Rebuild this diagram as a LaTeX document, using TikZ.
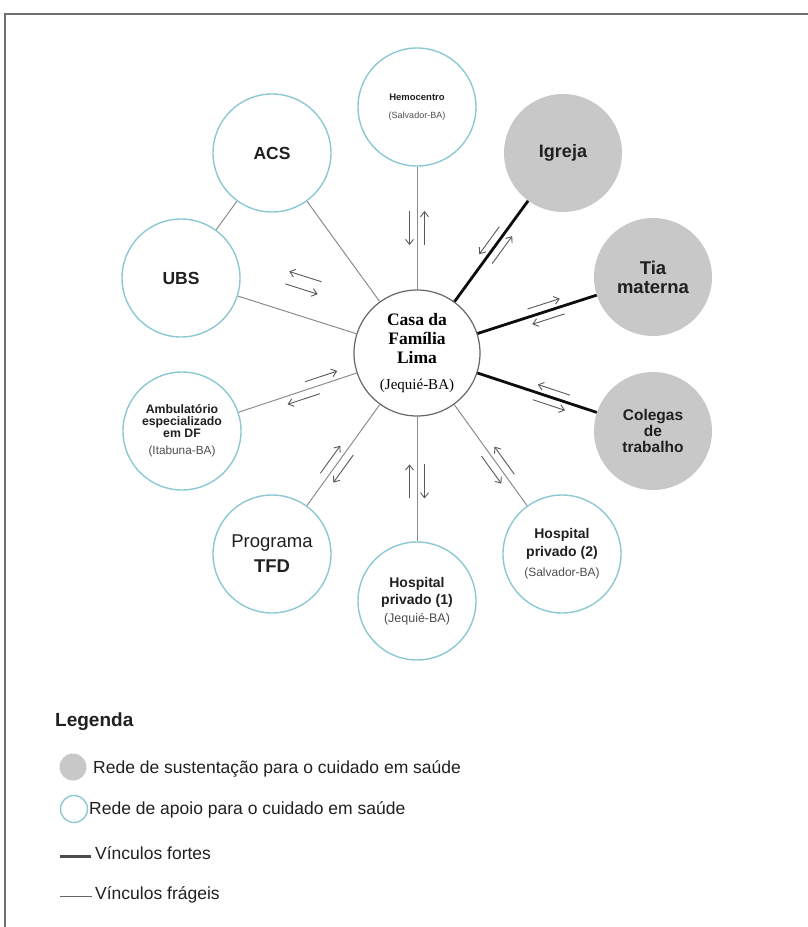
\documentclass[tikz,border=0pt]{standalone}
\usepackage{fontspec}
\setmainfont{Liberation Sans}
\newfontfamily\serifa{Liberation Serif}
\usetikzlibrary{decorations.markings, arrows.meta}

\definecolor{azul}{HTML}{8CC8D2}
\definecolor{cinza}{HTML}{C8C8C8}
\definecolor{linha}{HTML}{8C8C8C}
\definecolor{moldura}{HTML}{707070}
\definecolor{texto}{HTML}{202020}
\definecolor{local}{HTML}{4D4D4D}

\tikzset{
  apoio/.style={circle, draw=azul, line width=1.4pt, minimum size=118pt, inner sep=0pt, align=center, text=texto},
  sustento/.style={circle, fill=cinza, minimum size=118pt, inner sep=0pt, align=center, text=texto},
  centro/.style={circle, draw=black!60, line width=1.2pt, minimum size=126pt, inner sep=0pt, align=center, text=black},
  fraco/.style={draw=linha, line width=1pt},
  forte/.style={draw=black!95, line width=2.8pt},
  seta/.style={draw=black!65, line width=0.9pt},
  % ida: arrow pointing out of the centre, volta: arrow pointing back to it
  ida/.style 2 args={postaction={decorate, decoration={markings,
      mark=at position #1 with {\draw[seta,->] (-17pt,#2) -- (17pt,#2);}}}},
  volta/.style 2 args={postaction={decorate, decoration={markings,
      mark=at position #1 with {\draw[seta,<-] (-17pt,#2) -- (17pt,#2);}}}},
  legtexto/.style={anchor=west, inner sep=0pt, text=texto, font=\fontsize{17.5}{20}\selectfont},
}

\begin{document}
\begin{tikzpicture}[x=1pt, y=-1pt, >={Straight Barb[length=5pt,width=8pt]}]
  \useasboundingbox (0,0) rectangle (808,927);
  % MOLDURA
  \draw[moldura, line width=2pt] (5,927) -- (5,14) -- (808,14);

  % NODES
  \node[centro, font=\serifa\bfseries\fontsize{17.5}{19}\selectfont] (casa) at (417,353)
    {Casa da\\Família\\Lima\\[7pt]{\mdseries\fontsize{15}{17}\selectfont (Jequié-BA)}};
  \node[apoio, font=\bfseries\fontsize{9.5}{11.5}\selectfont] (hemo) at (417,107)
    {Hemocentro\\[6pt]{\mdseries\fontsize{9}{11}\selectfont\color{local}(Salvador-BA)}};
  \node[apoio, font=\bfseries\fontsize{17.5}{21}\selectfont] (acs) at (272,153) {ACS};
  \node[apoio, font=\bfseries\fontsize{17.5}{21}\selectfont] (ubs) at (181,278) {UBS};
  \node[apoio, font=\bfseries\fontsize{12.3}{11.8}\selectfont] (amb) at (182,431)
    {Ambulatório\\especializado\\em DF\\[6pt]{\mdseries\fontsize{11.8}{13}\selectfont\color{local}(Itabuna-BA)}};
  \node[apoio, font=\bfseries\fontsize{18.5}{25}\selectfont] (tfd) at (272,554)
    {{\mdseries Programa}\\TFD};
  \node[apoio, font=\bfseries\fontsize{14}{17.5}\selectfont] (hosp1) at (417,601)
    {Hospital\\privado (1)\\[0.5pt]{\mdseries\fontsize{12.5}{14}\selectfont\color{local}(Jequié-BA)}};
  \node[apoio, font=\bfseries\fontsize{14}{18}\selectfont] (hosp2) at (562,554)
    {Hospital\\privado (2)\\[2pt]{\mdseries\fontsize{12}{14}\selectfont\color{local}(Salvador-BA)}};
  \node[sustento, font=\bfseries\fontsize{18}{21}\selectfont] (igreja) at (563,153) {Igreja};
  \node[sustento, font=\bfseries\fontsize{18.5}{19}\selectfont] (tia) at (653,277) {Tia\\materna};
  \node[sustento, font=\bfseries\fontsize{15.5}{16}\selectfont] (colegas) at (653,431) {Colegas\\de\\trabalho};

  % LINES
  \draw[fraco] (acs) -- (ubs);
  \draw[fraco] (casa) -- (acs);
  \draw[fraco, ida={0.5}{-7.5pt}, volta={0.5}{7.5pt}] (casa) -- (hemo);
  \draw[fraco, ida={0.53}{-39pt}, volta={0.53}{-26pt}] (casa) -- (ubs);
  \draw[fraco, ida={0.47}{8pt}, volta={0.28}{-8pt}] (casa) -- (amb);
  \draw[fraco, ida={0.59}{8pt}, volta={0.59}{-8pt}] (casa) -- (tfd);
  \draw[fraco, ida={0.52}{7.5pt}, volta={0.52}{-7.5pt}] (casa) -- (hosp1);
  \draw[fraco, ida={0.6}{-8pt}, volta={0.6}{8pt}] (casa) -- (hosp2);
  \draw[forte, ida={0.56}{-8pt}, volta={0.56}{8pt}] (casa) -- (igreja);
  \draw[forte, ida={0.575}{8pt}, volta={0.575}{-8pt}] (casa) -- (tia);
  \draw[forte, ida={0.62}{-8pt}, volta={0.62}{8pt}] (casa) -- (colegas);

  % LEGENDA
  \node[anchor=west, inner sep=0pt, text=texto, font=\bfseries\fontsize{19}{22}\selectfont] (legenda) at (55,722) {Legenda};
  \node[circle, fill=cinza, minimum size=27pt, inner sep=0pt] (legsust) at (73,767) {};
  \node[legtexto] (sust) at (93,769) {Rede de sustentação para o cuidado em saúde};
  \node[circle, draw=azul, line width=1.4pt, minimum size=27pt, inner sep=0pt] (legapoio) at (74,809) {};
  \node[legtexto] (apoio) at (89,810) {Rede de apoio para o cuidado em saúde};
  \draw[draw=black!70, line width=3pt] (60,856) -- ++(31,0);
  \node[legtexto] (fortes) at (95,853) {Vínculos fortes};
  \draw[draw=black!60, line width=1pt] (60,896) -- ++(32,0);
  \node[legtexto] (frageis) at (95,895) {Vínculos frágeis};
\end{tikzpicture}
\end{document}
